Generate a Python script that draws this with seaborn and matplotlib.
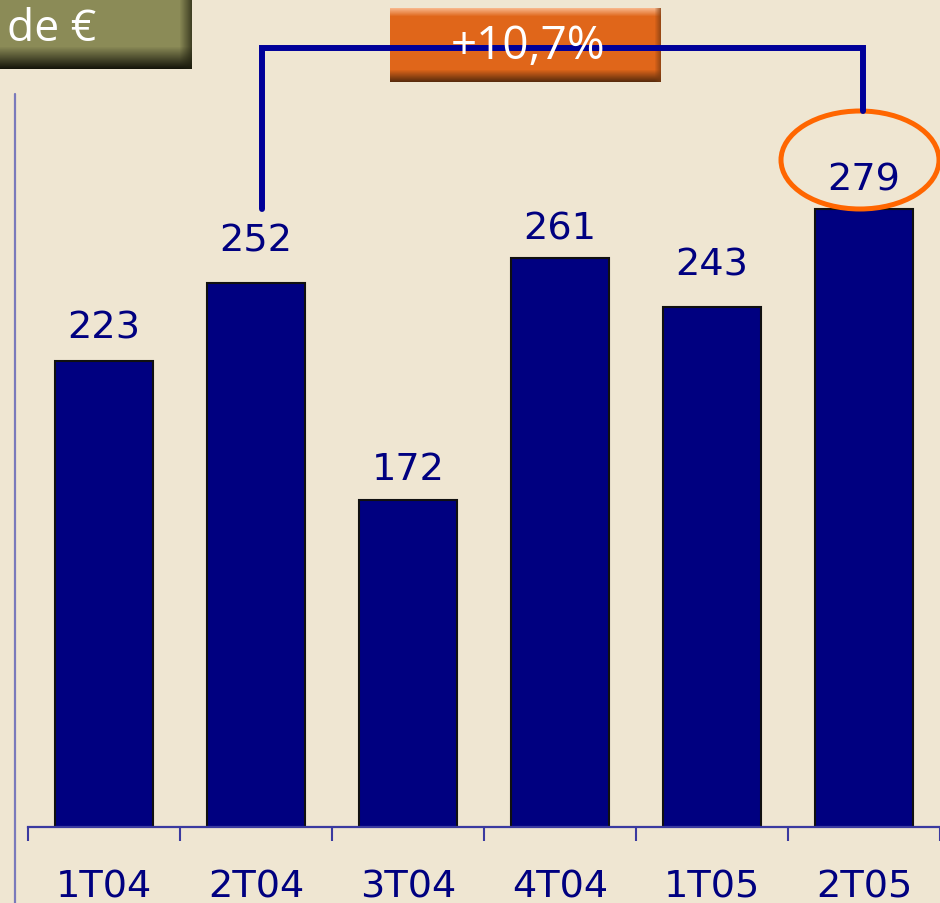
import numpy as np
import pandas as pd
import matplotlib
matplotlib.use("Agg")
import matplotlib.pyplot as plt
from matplotlib.patches import Ellipse
from matplotlib.lines import Line2D
import seaborn as sns

# ---- data ----
categories = ["1T04", "2T04", "3T04", "4T04", "1T05", "2T05"]
values = [223, 252, 172, 261, 243, 279]
unit_label = "de €"
growth_label = "+10,7%"

# ---- style ----
label_gap_px = [24, 32, 21, 20, 32, 20]
BG = "#efe6d2"
NAVY = "#000080"

W, H = 940, 904
sns.set_theme(style="white")
plt.rcParams["font.family"] = ["DejaVu Sans"]

fig = plt.figure(figsize=(W / 100, H / 100), dpi=100, facecolor=BG)


def fx(x):
    return x / W


def fy(y):
    return 1 - y / H


ax = fig.add_axes([fx(28), fy(828), fx(940) - fx(28), fy(0) - fy(828)])
ax.set_facecolor(BG)

df = pd.DataFrame({"cat": categories, "val": values})
sns.barplot(data=df, x="cat", y="val", color=NAVY, saturation=1, width=0.64,
            edgecolor="#101010", linewidth=1.5, ax=ax)

ax.set_xlim(-0.5, 5.5)
ax.set_ylim(51.5, 356.4)
ax.set_xlabel("")
ax.set_ylabel("")
ax.set_yticks([])
for s in ["left", "top", "right"]:
    ax.spines[s].set_visible(False)
ax.spines["bottom"].set_color("#3a3aa0")
ax.spines["bottom"].set_linewidth(1.6)

ax.set_xticks(np.arange(len(categories)))
ax.set_xticklabels(categories)
ax.set_xticks(np.arange(len(categories) + 1) - 0.5, minor=True)
ax.tick_params(axis="x", which="major", length=0, pad=30, labelsize=27.5,
               labelcolor=NAVY)
ax.tick_params(axis="x", which="minor", length=10, width=1.5, color="#3a3aa0",
               direction="out", bottom=True)

for i, v in enumerate(values):
    ax.annotate(str(v), xy=(i, v), xytext=(0, label_gap_px[i] * 0.72),
                textcoords="offset points", ha="center", va="baseline",
                fontsize=27.5, color=NAVY)

# left decorative vertical line
fig.add_artist(Line2D([fx(15), fx(15)], [fy(95), fy(904)], color="#7a7abb",
                      lw=1.6, transform=fig.transFigure))

# bracket
fig.add_artist(Line2D([fx(262), fx(262), fx(863), fx(863)],
                      [fy(210), fy(49), fy(49), fy(112)],
                      color="#000099", lw=4.3, solid_joinstyle="miter",
                      transform=fig.transFigure))

# ellipse around 279
fig.add_artist(Ellipse((fx(860), fy(161)), fx(158), 98 / H, fill=False,
                       edgecolor="#ff6600", lw=3.6, transform=fig.transFigure))


def gradient_box(x0, y0, x1, y1, base, top_light, bottom_dark, top_n, bot_n,
                 right_n, right_dark):
    w, h = x1 - x0, y1 - y0
    base = np.array(matplotlib.colors.to_rgb(base))
    tl = np.array(matplotlib.colors.to_rgb(top_light))
    bd = np.array(matplotlib.colors.to_rgb(bottom_dark))
    rd = np.array(matplotlib.colors.to_rgb(right_dark))
    img = np.tile(base, (h, w, 1)).astype(float)
    for r in range(h):
        if r < top_n:
            t = 1 - r / top_n
            img[r] = base * (1 - t) + tl * t
        elif r >= h - bot_n:
            t = (r - (h - bot_n) + 1) / bot_n
            img[r] = base * (1 - t) + bd * t
    for c in range(w - right_n, w):
        t = (c - (w - right_n) + 1) / right_n * 0.7
        img[:, c] = img[:, c] * (1 - t) + rd * t
    bax = fig.add_axes([fx(x0), fy(y1), fx(x1) - fx(x0), fy(y0) - fy(y1)])
    bax.imshow(img, aspect="auto", interpolation="bilinear")
    bax.set_axis_off()
    return bax


# unit box (top-left)
ub = gradient_box(0, 0, 192, 70, "#8b8b57", "#8b8b57", "#15150a", 1, 22, 12,
                  "#20200f")
fig.text(fx(7), fy(30), unit_label, ha="left", va="center", color="white",
         fontsize=32, family=["Open Sans", "DejaVu Sans"])

# growth box
gb = gradient_box(390, 9, 661, 83, "#e0661a", "#f7b488", "#5a2c0c", 8, 12, 6,
                  "#7a3a10")
fig.text(fx(528), fy(47), growth_label, ha="center", va="center", color="white",
         fontsize=33, family=["Open Sans", "DejaVu Sans"])

fig.savefig("out.png", dpi=100, facecolor=BG)
